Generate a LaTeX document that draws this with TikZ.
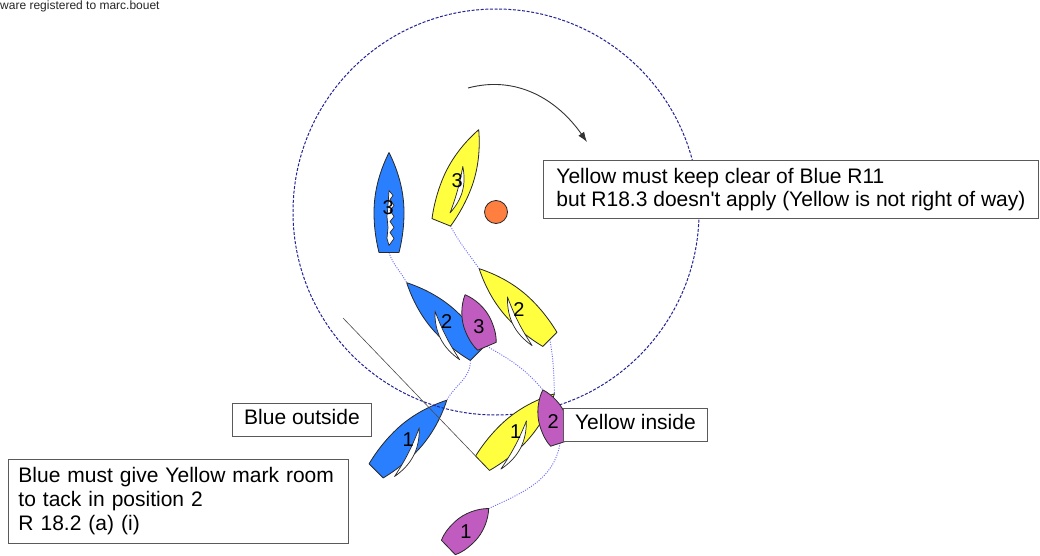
\documentclass[tikz,border=0pt]{standalone}
\usepackage{fontspec}
\setmainfont{Liberation Sans}[Ligatures=TeXOff]
\usetikzlibrary{arrows.meta}

\definecolor{blueboat}{RGB}{42,127,255}
\definecolor{yellowboat}{RGB}{255,255,64}
\definecolor{purpleboat}{RGB}{192,92,192}
\definecolor{markorange}{RGB}{255,127,64}
\definecolor{zonenavy}{RGB}{36,36,150}
\definecolor{trackblue}{RGB}{105,105,255}
\definecolor{edgegrey}{RGB}{40,40,40}
\definecolor{boxgrey}{RGB}{90,90,90}

\pgfdeclarelayer{lowest}
\pgfdeclarelayer{zonelayer}
\pgfsetlayers{lowest,zonelayer,main}

\tikzset{
  boatedge/.style={draw=edgegrey, line width=0.8pt, line join=round},
  sailcloth/.style={draw=edgegrey, fill=white, line width=0.7pt, line join=round},
  boatlabel/.style={font=\fontsize{20}{20}\selectfont, inner sep=0pt, text=black},
  notebox/.style={draw=boxgrey, line width=0.9pt, fill=white, inner sep=0pt,
    font=\fontsize{21}{24}\selectfont, anchor=north west},
  trackline/.style={draw=trackblue, line width=0.9pt, dash pattern=on 1pt off 1.4pt},
  zoneline/.style={draw=zonenavy, line width=1pt, dash pattern=on 3pt off 1.6pt},
  layline/.style={draw=black!70, line width=0.6pt},
  turnarrow/.style={draw=black!80, line width=0.9pt, -{Latex[length=10pt,width=7pt]}},
  markbuoy/.style={circle, draw=edgegrey, fill=markorange, minimum size=23pt,
    inner sep=0pt, line width=0.8pt},
  % keelboat hull, bow at (0,50), transom at y=-50
  pics/keelboat/.style={code={
    \path[boatedge, fill=#1] (0,50) .. controls (10,30) and (15,10) .. (15,-10)
      .. controls (15,-28) and (12,-42) .. (10,-50) -- (-10,-50)
      .. controls (-12,-42) and (-15,-28) .. (-15,-10)
      .. controls (-15,10) and (-10,30) .. (0,50) -- cycle;
    \coordinate (-bow) at (0,50);
    \coordinate (-stern) at (0,-50);
    \coordinate (-portaft) at (-10,-50);
    \coordinate (-stbdaft) at (10,-50);
  }},
  % short beamy hull, bow at (0,28)
  pics/dinghy/.style={code={
    \path[boatedge, fill=#1] (0,28) .. controls (7,21) and (14,8) .. (14,-6)
      .. controls (14,-16) and (12.5,-23) .. (10,-28) -- (-10,-28)
      .. controls (-12.5,-23) and (-14,-16) .. (-14,-6)
      .. controls (-14,8) and (-7,21) .. (0,28) -- cycle;
    \coordinate (-bow) at (0,28);
    \coordinate (-stern) at (0,-28);
  }},
  pics/sailport/.style={code={
    \path[sailcloth] (0,10) to[bend right=28] (-17,-42) to[bend left=6] (0,10) -- cycle;
  }},
  pics/sailstbd/.style={code={
    \path[sailcloth] (0,11) to[bend left=28] (17,-41) to[bend right=6] (0,11) -- cycle;
  }},
  pics/sailamid/.style={code={
    \path[sailcloth] (-1,10) to[bend left=26] (4.6,-38) to[bend right=5] (-1,10) -- cycle;
  }},
  pics/sailluff/.style={code={
    \path[sailcloth] (0,12) -- (4,7) -- (1,3) -- (5,-3) -- (1,-8) -- (5,-14) -- (1,-19)
      -- (5,-25) -- (1,-30) -- (5,-36) -- (0,-43) -- (-2,-36) -- (-1,-25)
      -- (-2,-14) -- (-1,-3) -- cycle;
  }},
}

\begin{document}
\begin{tikzpicture}[x=1pt,y=1pt]
\useasboundingbox (0,0) rectangle (1040,-556);
\begin{pgfonlayer}{lowest}
  \fill[white] (0,0) rectangle (1040,-556);
\end{pgfonlayer}

\node[anchor=base west, inner sep=0pt, font=\fontsize{12}{14}\selectfont, text=black!85]
  (owner) at (0,-10) {ware registered to marc.bouet};

% the mark
\node[markbuoy] (mark) at (496,-212) {};

% blue, position 1 (beneath the zone circle)
\begin{pgfonlayer}{lowest}
  \pic[rotate=-45] (b1) at (411.5,-435.5) {keelboat=blueboat};
  \pic[rotate=-45] at (411.5,-435.5) {sailstbd};
\end{pgfonlayer}

% blue
\pic (b3) at (389,-202.5) {keelboat=blueboat};
\pic at (389,-202.5) {sailluff};
\pic[rotate=45] (b2) at (442,-318) {keelboat=blueboat};
\pic[rotate=45] at (442,-318) {sailport};

% yellow
\pic[rotate=-22] (y3) at (460,-176) {keelboat=yellowboat};
\pic[rotate=-22] at (460,-176) {sailamid};
\pic[rotate=45] (y2) at (514.5,-304) {keelboat=yellowboat};
\pic[rotate=45] at (514.5,-304) {sailport};
\pic[rotate=-46] (y1) at (518.5,-428.5) {keelboat=yellowboat};
\pic[rotate=-46] at (518.5,-428.5) {sailstbd};

% purple
\pic[rotate=23] (m3) at (476,-320.5) {dinghy=purpleboat};
\pic[rotate=18] (m2) at (551.5,-416.5) {dinghy=purpleboat};
\pic[rotate=-46] (m1) at (468.5,-528) {dinghy=purpleboat};

% zone, layline and tracks
\begin{pgfonlayer}{zonelayer}
  \draw[zoneline] (mark.center) circle[radius=203];
  \coordinate (layfar) at (343,-318);
  \draw[layline] (layfar) -- (y1-portaft);
  \draw[trackline] (b3-stern) to[out=-72,in=118] (b2-bow);
  \draw[trackline] (b2-portaft) to[out=-88,in=62] (b1-bow);
  \draw[trackline] (y3-stbdaft) to[out=-62,in=125] (y2-bow);
  \draw[trackline] (y2-stern) to[out=-80,in=92] (y1-bow);
  \draw[trackline] (m3-stern) to[out=-30,in=130] (m2-bow);
  \draw[trackline] (m2-stern) to[out=-100,in=25] (m1-bow);
\end{pgfonlayer}

% position numbers
\node[boatlabel] (nb3) at (388.3,-207.3) {3};
\node[boatlabel] (ny3) at (457.3,-180.7) {3};
\node[boatlabel] (nb2) at (446.7,-321.7) {2};
\node[boatlabel] (nm3) at (479,-326.7) {3};
\node[boatlabel] (ny2) at (519,-309.3) {2};
\node[boatlabel] (nb1) at (408.3,-440) {1};
\node[boatlabel] (ny1) at (515.7,-431.7) {1};
\node[boatlabel] (nm2) at (553.3,-421.7) {2};
\node[boatlabel] (nm1) at (466,-531.7) {1};

% rounding direction
\coordinate (swingfrom) at (468,-88);
\coordinate (swingto) at (587,-142);
\draw[turnarrow] (swingfrom) to[out=15,in=125] (swingto);

% notes
\node[notebox, minimum width=495pt, minimum height=58pt, align=left,
  font=\fontsize{21}{22.5}\selectfont] (r11) at (543,-160)
  {Yellow must keep clear of Blue R11\\but R18.3 doesn't apply (Yellow is not right of way)};
\node[notebox, minimum width=139pt, minimum height=33pt] (outside) at (232,-403)
  {Blue outside\strut};
\node[notebox, minimum width=144pt, minimum height=33pt] (inside) at (563,-408)
  {Yellow inside\strut};
\node[notebox, text width=320pt, inner xsep=10pt, minimum height=84pt, align=left]
  (room) at (8,-459)
  {Blue must give Yellow mark room\\to tack in position 2\\R 18.2 (a) (i)};
\end{tikzpicture}
\end{document}
